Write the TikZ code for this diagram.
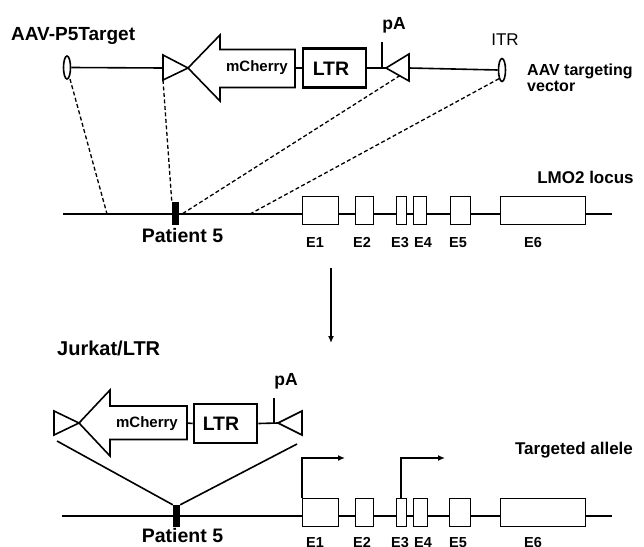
\documentclass[tikz,border=0pt]{standalone}
\usepackage{fontspec}
\setmainfont{Liberation Sans}
\usetikzlibrary{arrows.meta,shapes.geometric}
\newcommand\fsz[1]{\fontsize{#1}{#1}\selectfont}
\begin{document}
\begin{tikzpicture}[x=1pt,y=-1pt,
  ln/.style={line width=1.6pt},
  thk/.style={line width=2.8pt},
  dsh/.style={line width=1.3pt, dash pattern=on 4pt off 2.5pt},
  exon/.style={draw, line width=1.6pt, fill=white, minimum height=28pt, inner sep=0pt, anchor=west},
  ltrbox/.style={draw, line width=2.6pt, fill=white, inner sep=0pt, minimum width=63pt, minimum height=39pt},
  itr/.style={draw, ellipse, line width=1.6pt, inner sep=0pt, minimum width=7pt, minimum height=23pt},
  txt/.style={inner sep=0pt, anchor=base},
  btxt/.style={txt, font=\bfseries},
  elbl/.style={btxt, font=\fsz{14.5}\bfseries},
  marker/.style={fill=black, draw=none},
  tip/.style={-{Latex[length=7pt,width=6pt]}}
]
\useasboundingbox (0,0) rectangle (644,546);
\begin{scope}
\clip (0,0) rectangle (644,546);

% ================= TOP: AAV targeting vector =================
\node[btxt, anchor=base west, font=\fsz{19}\bfseries] (title1) at (11,40) {AAV-P5Target};

\node[itr] (itrL) at (67,67.5) {};
\node[itr] (itrR) at (502,70) {};

% left loxP triangle (pointing right)
\coordinate (tLa) at (163,55);
\coordinate (tLb) at (163,80);
\coordinate (tLtip) at (188,68);
\coordinate (tLmid) at (163,68);
\draw[ln] (tLa) -- (tLb) -- (tLtip) -- cycle;
\draw[ln] (itrL.east) -- (tLmid);

% mCherry arrow (pointing left)
\coordinate (mArrR) at (295,68);
\draw[ln] (tLtip) -- (220,35) -- (220,49.5) -- (295,49.5) -- (295,87.5) -- (220,87.5) -- (220,101) -- cycle;
\node[btxt, font=\fsz{15}\bfseries] (mch) at (257,71.5) {mCherry};

% LTR box
\node[ltrbox] (ltr) at (334.5,68) {};
\node[btxt, font=\fsz{19.5}\bfseries] (ltrT) at (331,75) {LTR};
\draw[ln] (mArrR) -- (ltr.west);

% right loxP triangle (pointing left)
\coordinate (tRtip) at (386,68);
\coordinate (tRa) at (409,54);
\coordinate (tRb) at (409,81);
\coordinate (tRmid) at (409,68);
\draw[ln] (tRtip) -- (tRa) -- (tRb) -- cycle;
\draw[ln] (ltr.east) -- (tRtip);
\draw[ln] (tRmid) -- (itrR.west);

% pA
\coordinate (pAbase) at (382,68);
\coordinate (pAtop) at (382,42);
\draw[thk] (pAbase) -- (pAtop);
\node[btxt, font=\fsz{17.5}\bfseries] (pA1) at (394,29) {pA};

\node[txt, font=\fsz{17}] (itrT) at (505,45) {ITR};
\node[btxt, anchor=base west, font=\fsz{16}\bfseries] (aav) at (527,75) {AAV targeting};
\node[btxt, anchor=base west, font=\fsz{16}\bfseries] (vec) at (527,91) {vector};

% ================= LMO2 locus =================
\coordinate (L0) at (63,214);
\coordinate (L1) at (612,214);
\node[marker, minimum width=7pt, minimum height=23pt, inner sep=0pt] (p5) at (175.5,213.5) {};
\node[exon, minimum width=36pt] (e1) at (301.7,210.5) {};
\node[exon, minimum width=18pt] (e2) at (354.7,210.5) {};
\node[exon, minimum width=10pt] (e3) at (395.7,210.5) {};
\node[exon, minimum width=13pt] (e4) at (412.7,210.5) {};
\node[exon, minimum width=20pt] (e5) at (449.7,210.5) {};
\node[exon, minimum width=85pt] (e6) at (499.7,210.5) {};
\draw[ln] (L0) -- (p5.west |- L0);
\draw[ln] (p5.east |- L0) -- (e1.west |- L0);
\draw[ln] (e1.east |- L0) -- (e2.west |- L0);
\draw[ln] (e2.east |- L0) -- (e3.west |- L0);
\draw[ln] (e3.east |- L0) -- (e4.west |- L0);
\draw[ln] (e4.east |- L0) -- (e5.west |- L0);
\draw[ln] (e5.east |- L0) -- (e6.west |- L0);
\draw[ln] (e6.east |- L0) -- (L1);

\node[elbl] (l1) at (315,247) {E1};
\node[elbl] (l2) at (362,247) {E2};
\node[elbl] (l3) at (400,247) {E3};
\node[elbl] (l4) at (423,247) {E4};
\node[elbl] (l5) at (458,247) {E5};
\node[elbl] (l6) at (533,247) {E6};
\node[btxt, font=\fsz{19.5}\bfseries] (pt1) at (182.5,242) {Patient 5};
\node[btxt, font=\fsz{17}\bfseries] (lmo) at (585.5,183) {LMO2 locus};

% dashed homology lines
\coordinate (h1) at (107,214);
\coordinate (h3) at (182,214);
\coordinate (h4) at (250,214);
\draw[dsh] (70,79) -- (h1);
\draw[dsh] (tLb) -- (p5.north west);
\draw[dsh] (400,75.5) -- (h3);
\draw[dsh] (itrR.south west) -- (h4);

% ================= arrow down =================
\coordinate (va) at (331,268);
\coordinate (vb) at (331,343);
\draw[ln, tip] (va) -- (vb);

% ================= BOTTOM: Jurkat/LTR =================
\node[btxt, anchor=base west, font=\fsz{20}\bfseries] (title2) at (57,355) {Jurkat/LTR};

\coordinate (bLa) at (54,411);
\coordinate (bLb) at (54,435);
\coordinate (bLtip) at (79,423);
\draw[ln] (bLa) -- (bLb) -- (bLtip) -- cycle;

\coordinate (bArrR) at (187,423);
\draw[ln] (bLtip) -- (110,390) -- (110,406) -- (187,406) -- (187,439.5) -- (110,439.5) -- (110,456) -- cycle;
\node[btxt, font=\fsz{15}\bfseries] (mch2) at (147,427.5) {mCherry};

\node[ltrbox] (ltr2) at (225.5,423.5) {};
\node[btxt, font=\fsz{19.5}\bfseries] (ltr2T) at (221,430) {LTR};
\draw[ln] (bArrR) -- (ltr2.west);

\coordinate (bRtip) at (278,423);
\coordinate (bRa) at (302,411);
\coordinate (bRb) at (302,435);
\draw[ln] (bRtip) -- (bRa) -- (bRb) -- cycle;
\draw[ln] (ltr2.east) -- (bRtip);

\coordinate (pA2base) at (274,423);
\coordinate (pA2top) at (274,398);
\draw[thk] (pA2base) -- (pA2top);
\node[btxt, font=\fsz{17.5}\bfseries] (pA2) at (286,385) {pA};

% targeted allele
\coordinate (B0) at (62,516);
\coordinate (B1) at (612,516);
\node[marker, minimum width=7pt, minimum height=22pt, inner sep=0pt] (p5b) at (176.5,516) {};
\node[exon, minimum width=36pt] (f1) at (301.7,512.5) {};
\node[exon, minimum width=18pt] (f2) at (354.7,512.5) {};
\node[exon, minimum width=10pt] (f3) at (395.7,512.5) {};
\node[exon, minimum width=14pt] (f4) at (412.7,512.5) {};
\node[exon, minimum width=21pt] (f5) at (448.7,512.5) {};
\node[exon, minimum width=85pt] (f6) at (499.7,512.5) {};
\draw[ln] (B0) -- (f1.west |- B0);
\draw[ln] (f1.east |- B0) -- (f2.west |- B0);
\draw[ln] (f2.east |- B0) -- (f3.west |- B0);
\draw[ln] (f3.east |- B0) -- (f4.west |- B0);
\draw[ln] (f4.east |- B0) -- (f5.west |- B0);
\draw[ln] (f5.east |- B0) -- (f6.west |- B0);
\draw[ln] (f6.east |- B0) -- (B1);

% insertion lines
\coordinate (vL) at (57,441);
\coordinate (vR) at (297,444);
\draw[ln] (vL) -- (p5b.north west);
\draw[ln] (vR) -- (p5b.north east);

% transcription start arrows
\coordinate (ts1) at (345,458);
\coordinate (ts2) at (445,458);
\draw[ln, tip] (f1.north west) |- (ts1);
\draw[ln, tip] ([xshift=5pt]f3.north west) |- (ts2);

\node[btxt, font=\fsz{17}\bfseries] (tgt) at (574,454) {Targeted allele};
\node[btxt, font=\fsz{19.5}\bfseries] (pt2) at (182.5,542) {Patient 5};

\node[elbl] (m1) at (315,547.5) {E1};
\node[elbl] (m2) at (362,547.5) {E2};
\node[elbl] (m3) at (400,547.5) {E3};
\node[elbl] (m4) at (423,547.5) {E4};
\node[elbl] (m5) at (458,547.5) {E5};
\node[elbl] (m6) at (533,547.5) {E6};
\end{scope}
\end{tikzpicture}
\end{document}
